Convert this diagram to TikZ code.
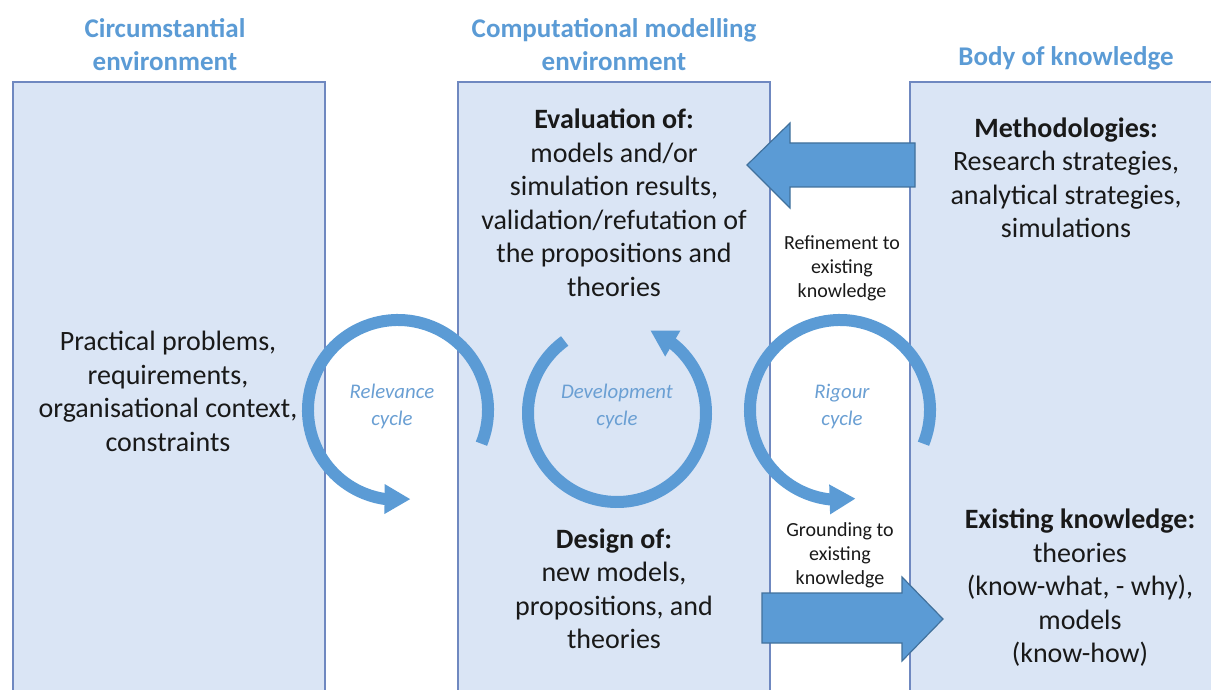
\documentclass[tikz,border=0pt]{standalone}
\usepackage{fontspec}
\setmainfont{Carlito}
\usetikzlibrary{arrows.meta,bending}

\definecolor{boxfill}{HTML}{DAE5F5}
\definecolor{boxline}{HTML}{6F88C0}
\definecolor{accent}{HTML}{5B9BD5}
\definecolor{arrline}{HTML}{41719C}
\definecolor{cyctext}{HTML}{6A9FD3}

\tikzset{
  envbox/.style={fill=boxfill, draw=boxline, line width=1pt},
  heading/.style={text=accent, font=\fontsize{13.5}{16.5}\selectfont\bfseries, align=center},
  body/.style={text=black!90, font=\fontsize{14}{16.75}\selectfont, align=center},
  smalltext/.style={text=black!90, font=\fontsize{10}{12}\selectfont, align=center},
  cyclabel/.style={text=cyctext, font=\fontsize{10.4}{13.5}\selectfont\itshape, align=center},
  cycarrow/.style={draw=accent, line width=6pt, -{Triangle[length=13pt,width=14pt,flex']}},
  blockarrow/.style={fill=accent, draw=arrline, line width=0.6pt}
}

\begin{document}
\begin{tikzpicture}[x=0.5pt, y=-0.5pt]
  \useasboundingbox (0,0) rectangle (1211,690);

  %environments
  \draw[envbox] (13,82) rectangle (325,700);
  \draw[envbox] (458,82) rectangle (770,700);
  \draw[envbox] (910,82) rectangle (1220,700);

  \node[heading] (circhead) at (165,44.5) {Circumstantial\\environment};
  \node[heading] (comphead) at (614,44.5) {Computational modelling\\environment};
  \node[heading] (knowhead) at (1066,58) {Body of knowledge};

  %block arrows
  \draw[blockarrow] (915,143) -- (790,143) -- (790,123) -- (747,165)
      -- (790,208) -- (790,187) -- (915,187) -- cycle;
  \draw[blockarrow] (762,593) -- (902,593) -- (902,577) -- (943,619)
      -- (902,661) -- (902,643) -- (762,643) -- cycle;

  %cycles
  \coordinate (relc) at (398,410);
  \coordinate (devc) at (617,413);
  \coordinate (rigc) at (840,410);
  \draw[cycarrow] (relc) ++(22:90) arc[start angle=22, end angle=-278, radius=90];
  \draw[cycarrow] (devc) ++(234:89) arc[start angle=234, end angle=-68, radius=89];
  \draw[cycarrow] (rigc) ++(22:90) arc[start angle=22, end angle=-280, radius=90];

  \node[cyclabel] (rellabel) at (392,406.5) {Relevance\\cycle};
  \node[cyclabel] (devlabel) at (617,406.5) {Development\\cycle};
  \node[cyclabel] (riglabel) at (842,406.5) {Rigour\\cycle};

  %texts
  \node[body] (practical) at (168,391.5)
      {Practical problems,\\requirements,\\organisational context,\\constraints};
  \node[body] (evaluation) at (614,203)
      {\textbf{Evaluation of:}\\models and/or\\simulation results,\\validation/refutation of\\the propositions and\\theories};
  \node[body] (design) at (614,589)
      {\textbf{Design of:}\\new models,\\propositions, and\\theories};
  \node[body] (methods) at (1066,178)
      {\textbf{Methodologies:}\\Research strategies,\\analytical strategies,\\simulations};
  \node[body] (existing) at (1080,588)
      {\textbf{Existing knowledge:}\\theories\\(know-what, - why),\\models\\(know-how)};
  \node[smalltext] (refine) at (842,268) {Refinement to\\existing\\knowledge};
  \node[smalltext] (ground) at (840,555) {Grounding to\\existing\\knowledge};
\end{tikzpicture}
\end{document}
